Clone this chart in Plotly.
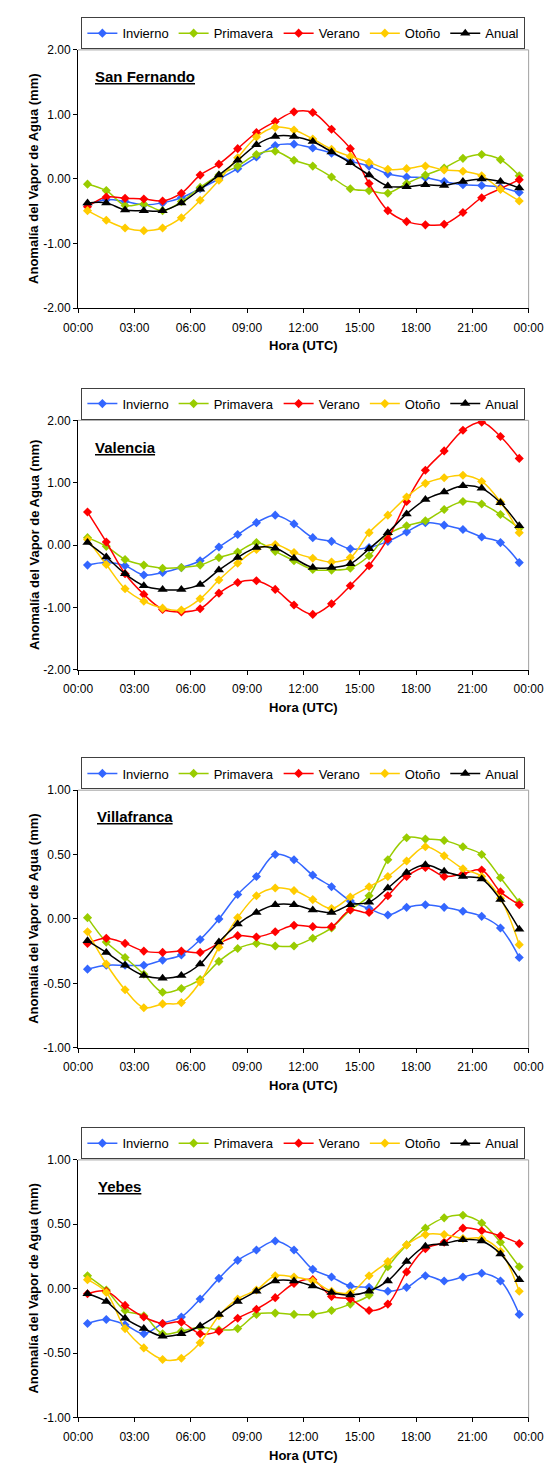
import plotly.graph_objects as go

# Hour of each hourly mean (centre of the hour, UTC)
hours = [0.5, 1.5, 2.5, 3.5, 4.5, 5.5, 6.5, 7.5, 8.5, 9.5, 10.5, 11.5,
         12.5, 13.5, 14.5, 15.5, 16.5, 17.5, 18.5, 19.5, 20.5, 21.5, 22.5, 23.5]

tick_hours = [0, 3, 6, 9, 12, 15, 18, 21, 24]
tick_labels = ["00:00", "03:00", "06:00", "09:00", "12:00", "15:00", "18:00", "21:00", "00:00"]

# y tick values / labels for the wide (±2 mm) and narrow (±1 mm) panels
wide_ticks = [-2, -1, 0, 1, 2]
wide_tick_labels = ["-2.00", "-1.00", "0.00", "1.00", "2.00"]
narrow_ticks = [-1, -0.5, 0, 0.5, 1]
narrow_tick_labels = ["-1.00", "-0.50", "0.00", "0.50", "1.00"]

seasons = ["Invierno", "Primavera", "Verano", "Otoño", "Anual"]
season_colors = ["#3366FF", "#99CC00", "#FF0000", "#FFCC00", "#000000"]
season_symbols = ["diamond", "diamond", "diamond", "diamond", "triangle-up"]

stations = ["San Fernando", "Valencia", "Villafranca", "Yebes"]

# Water vapour anomaly (mm) by hour
san_fernando_invierno = [-0.40, -0.32, -0.35, -0.40, -0.37, -0.29, -0.15, 0.00, 0.16, 0.34, 0.52, 0.54,
                         0.48, 0.40, 0.28, 0.20, 0.08, 0.03, 0.02, -0.04, -0.09, -0.10, -0.13, -0.21]
san_fernando_primavera = [-0.08, -0.18, -0.41, -0.39, -0.49, -0.35, -0.13, 0.06, 0.20, 0.38, 0.43, 0.29,
                          0.20, 0.03, -0.15, -0.18, -0.22, -0.07, 0.06, 0.17, 0.32, 0.38, 0.30, 0.05]
san_fernando_verano = [-0.43, -0.28, -0.30, -0.31, -0.34, -0.22, 0.06, 0.23, 0.47, 0.72, 0.89, 1.04,
                       1.03, 0.77, 0.47, -0.07, -0.49, -0.66, -0.71, -0.70, -0.52, -0.29, -0.15, -0.01]
san_fernando_otono = [-0.49, -0.64, -0.76, -0.80, -0.76, -0.60, -0.33, -0.02, 0.33, 0.65, 0.80, 0.76,
                      0.62, 0.46, 0.35, 0.26, 0.15, 0.16, 0.20, 0.14, 0.12, 0.05, -0.16, -0.34]
san_fernando_anual = [-0.37, -0.37, -0.48, -0.49, -0.49, -0.37, -0.16, 0.06, 0.29, 0.53, 0.66, 0.66,
                      0.58, 0.42, 0.25, 0.06, -0.11, -0.12, -0.09, -0.10, -0.04, 0.00, -0.04, -0.14]

valencia_invierno = [-0.32, -0.28, -0.33, -0.48, -0.44, -0.36, -0.25, -0.03, 0.17, 0.36, 0.48, 0.34,
                     0.12, 0.06, -0.06, -0.04, 0.06, 0.21, 0.36, 0.32, 0.25, 0.13, 0.04, -0.28]
valencia_primavera = [0.12, -0.02, -0.23, -0.32, -0.37, -0.36, -0.32, -0.20, -0.11, 0.04, -0.10, -0.25,
                      -0.39, -0.40, -0.37, -0.17, 0.17, 0.31, 0.39, 0.57, 0.70, 0.66, 0.49, 0.27]
valencia_verano = [0.53, 0.05, -0.46, -0.79, -1.03, -1.07, -1.02, -0.77, -0.60, -0.57, -0.71, -0.96,
                   -1.11, -0.94, -0.65, -0.33, 0.10, 0.70, 1.20, 1.51, 1.84, 1.97, 1.74, 1.39]
valencia_otono = [0.09, -0.31, -0.70, -0.90, -1.01, -1.04, -0.86, -0.56, -0.29, -0.07, 0.01, -0.12,
                  -0.21, -0.27, -0.20, 0.20, 0.48, 0.77, 0.99, 1.08, 1.12, 1.02, 0.69, 0.20]
valencia_anual = [0.04, -0.19, -0.46, -0.65, -0.71, -0.71, -0.63, -0.40, -0.20, -0.04, -0.05, -0.21,
                  -0.36, -0.36, -0.30, -0.06, 0.20, 0.50, 0.73, 0.85, 0.95, 0.91, 0.68, 0.31]

villafranca_invierno = [-0.39, -0.36, -0.36, -0.36, -0.32, -0.28, -0.16, 0.00, 0.19, 0.33, 0.50, 0.46,
                        0.34, 0.25, 0.14, 0.08, 0.03, 0.09, 0.11, 0.09, 0.06, 0.02, -0.07, -0.30]
villafranca_primavera = [0.01, -0.18, -0.30, -0.43, -0.57, -0.54, -0.47, -0.33, -0.23, -0.19, -0.21, -0.21,
                         -0.15, -0.07, 0.07, 0.18, 0.46, 0.63, 0.62, 0.61, 0.56, 0.50, 0.32, 0.13]
villafranca_verano = [-0.19, -0.15, -0.19, -0.25, -0.26, -0.25, -0.26, -0.19, -0.13, -0.14, -0.10, -0.05,
                      -0.06, -0.06, 0.07, 0.05, 0.18, 0.33, 0.40, 0.33, 0.35, 0.38, 0.21, 0.11]
villafranca_otono = [-0.10, -0.35, -0.55, -0.69, -0.66, -0.65, -0.49, -0.22, 0.01, 0.18, 0.24, 0.22,
                     0.15, 0.08, 0.17, 0.25, 0.33, 0.45, 0.56, 0.49, 0.39, 0.33, 0.16, -0.20]
villafranca_anual = [-0.17, -0.26, -0.36, -0.44, -0.46, -0.44, -0.35, -0.18, -0.04, 0.05, 0.11, 0.11,
                     0.07, 0.05, 0.11, 0.13, 0.24, 0.36, 0.42, 0.37, 0.33, 0.31, 0.15, -0.08]

yebes_invierno = [-0.27, -0.24, -0.28, -0.35, -0.27, -0.22, -0.08, 0.08, 0.22, 0.30, 0.37, 0.30,
                  0.15, 0.09, 0.02, 0.01, -0.02, 0.01, 0.10, 0.06, 0.09, 0.12, 0.06, -0.20]
yebes_primavera = [0.10, -0.01, -0.17, -0.21, -0.35, -0.33, -0.30, -0.32, -0.31, -0.20, -0.19, -0.20,
                   -0.20, -0.17, -0.12, -0.05, 0.17, 0.34, 0.47, 0.55, 0.57, 0.51, 0.36, 0.17]
yebes_verano = [-0.04, -0.02, -0.13, -0.22, -0.27, -0.26, -0.35, -0.33, -0.23, -0.16, -0.07, 0.04,
                0.07, -0.06, -0.08, -0.17, -0.12, 0.13, 0.31, 0.36, 0.47, 0.45, 0.41, 0.35]
yebes_otono = [0.07, -0.03, -0.31, -0.46, -0.55, -0.54, -0.42, -0.21, -0.08, -0.01, 0.10, 0.09,
               0.06, -0.02, -0.03, 0.10, 0.21, 0.34, 0.42, 0.42, 0.39, 0.39, 0.29, -0.02]
yebes_anual = [-0.04, -0.10, -0.23, -0.31, -0.37, -0.35, -0.29, -0.20, -0.10, -0.02, 0.06, 0.06,
               0.02, -0.03, -0.05, -0.02, 0.06, 0.21, 0.33, 0.35, 0.38, 0.37, 0.27, 0.07]

station_series = [
    [san_fernando_invierno, san_fernando_primavera, san_fernando_verano, san_fernando_otono, san_fernando_anual],
    [valencia_invierno, valencia_primavera, valencia_verano, valencia_otono, valencia_anual],
    [villafranca_invierno, villafranca_primavera, villafranca_verano, villafranca_otono, villafranca_anual],
    [yebes_invierno, yebes_primavera, yebes_verano, yebes_otono, yebes_anual],
]

y_ranges = [[-2, 2], [-2, 2], [-1, 1], [-1, 1]]
y_tickvals = [wide_ticks, wide_ticks, narrow_ticks, narrow_ticks]
y_ticktext = [wide_tick_labels, wide_tick_labels, narrow_tick_labels, narrow_tick_labels]

# ---- page geometry (pixels) ----
W, H = 560, 1468
plot_left, plot_right = 66.7, 542.7
panel_tops = [43.3, 417.3, 790.7, 1164.0]
panel_bottoms = [304.0, 669.3, 1050.7, 1424.0]
title_left = [82.5, 82.5, 84.5, 86.0]

FONT = "Arial, 'Liberation Sans', sans-serif"


def px_x(v):
    return v / W


def px_y(v):
    return 1 - v / H


fig = go.Figure()
annotations = []
shapes = []
layout = {}

for p, station in enumerate(stations):
    suffix = "" if p == 0 else str(p + 1)
    xname, yname = "x" + suffix, "y" + suffix
    legend_name = "legend" + suffix

    for s, season in enumerate(seasons):
        is_annual = season_symbols[s] == "triangle-up"
        fig.add_trace(go.Scatter(
            x=hours,
            y=station_series[p][s],
            name=season,
            mode="lines+markers",
            line=dict(color=season_colors[s], width=1.5, shape="spline", smoothing=1.0),
            marker=dict(symbol=season_symbols[s], color=season_colors[s],
                        size=9 if is_annual else 7, line=dict(width=0)),
            xaxis=xname, yaxis=yname,
            legend=legend_name,
        ))

    top, bottom = panel_tops[p], panel_bottoms[p]
    layout["xaxis" + suffix] = dict(
        domain=[px_x(plot_left), px_x(plot_right)],
        anchor=yname,
        range=[0, 24],
        tickmode="array", tickvals=tick_hours, ticktext=tick_labels,
        ticks="outside", ticklen=4, tickcolor="#000000",
        showline=True, linecolor="#000000", linewidth=1,
        showgrid=False, zeroline=False,
        tickfont=dict(family=FONT, size=12, color="#000000"),
        ticklabelstandoff=4,
    )
    layout["yaxis" + suffix] = dict(
        domain=[px_y(bottom), px_y(top)],
        anchor=xname,
        range=y_ranges[p],
        tickmode="array", tickvals=y_tickvals[p], ticktext=y_ticktext[p],
        ticks="outside", ticklen=4, tickcolor="#000000",
        showline=True, linecolor="#000000", linewidth=1,
        showgrid=False, zeroline=False,
        tickfont=dict(family=FONT, size=12, color="#000000"),
    )
    layout[legend_name] = dict(
        orientation="h",
        x=px_x((plot_left + plot_right) / 2), xanchor="center",
        y=px_y(top - 33), yanchor="top",
        bgcolor="#FFFFFF", bordercolor="#404040", borderwidth=1,
        font=dict(family=FONT, size=13, color="#000000"),
        itemwidth=30, tracegroupgap=0,
    )

    # grey top and right frame of the plot area
    shapes.append(dict(type="line", xref=xname + " domain", yref=yname + " domain",
                       x0=0, x1=1, y0=1, y1=1, line=dict(color="#A0A0A0", width=1)))
    shapes.append(dict(type="line", xref=xname + " domain", yref=yname + " domain",
                       x0=1, x1=1, y0=0, y1=1, line=dict(color="#A0A0A0", width=1)))

    # station name
    annotations.append(dict(
        text="<b><u>" + station + "</u></b>", xref="paper", yref="paper",
        x=px_x(title_left[p]), y=px_y(top + 27), xanchor="left", yanchor="middle",
        showarrow=False, font=dict(family=FONT, size=15, color="#000000"),
    ))
    # axis titles
    annotations.append(dict(
        text="<b>Anomalía del Vapor de Agua (mm)</b>", xref="paper", yref="paper",
        x=px_x(20), y=px_y((top + bottom) / 2), xanchor="center", yanchor="middle",
        textangle=-90, showarrow=False, font=dict(family=FONT, size=13, color="#000000"),
    ))
    annotations.append(dict(
        text="<b>Hora (UTC)</b>", xref="paper", yref="paper",
        x=px_x((plot_left + plot_right) / 2), y=px_y(bottom + 38), xanchor="center", yanchor="middle",
        showarrow=False, font=dict(family=FONT, size=13, color="#000000"),
    ))

fig.update_layout(
    width=W, height=H,
    margin=dict(l=0, r=0, t=0, b=0),
    paper_bgcolor="#FFFFFF", plot_bgcolor="#FFFFFF",
    font=dict(family=FONT, color="#000000"),
    showlegend=True,
    annotations=annotations,
    shapes=shapes,
    **layout,
)

# page body without default spacing so the figure fills the window exactly
fig.write_html("out.html",
               post_script="document.body.style.margin='0px';document.body.style.overflow='hidden';")
